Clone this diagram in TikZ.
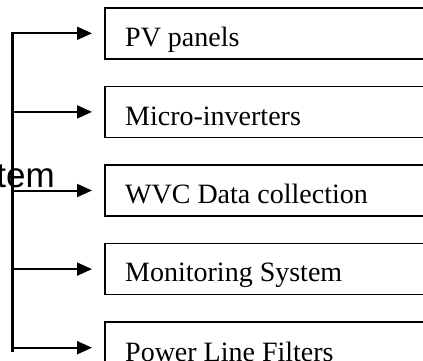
\documentclass[tikz,border=0pt]{standalone}
\usepackage{fontspec}
\setmainfont{Liberation Serif}
\newfontfamily\arialfont{Liberation Sans}
\usetikzlibrary{positioning,arrows.meta}

\tikzset{
    partbox/.style={draw, line width=1.6pt, anchor=north west,
        minimum width=360pt, minimum height=51pt, inner sep=0pt},
    partlabel/.style={anchor=base west, inner sep=0pt, font=\fontsize{28}{32}\selectfont},
}

\begin{document}
\begin{tikzpicture}[x=1pt, y=-1pt]

    \useasboundingbox (0,0) rectangle (423,360);
    \clip (0,0) rectangle (423,360);

    \node[anchor=base east, inner sep=0pt, font=\arialfont\fontsize{35}{40}\selectfont] (sys) at (55,187) {tem};

    \node[partbox] (pv) at (104,7) {};
    \node[partbox, below=26pt of pv.south west, anchor=north west] (micro) {};
    \node[partbox, below=26pt of micro.south west, anchor=north west] (wvc) {};
    \node[partbox, below=26pt of wvc.south west, anchor=north west] (monitor) {};
    \node[partbox, below=26pt of monitor.south west, anchor=north west] (filter) {};

    \node[partlabel] (pvtext) at ([xshift=21pt, yshift=13pt] pv.south west) {PV panels};
    \node[partlabel] (microtext) at ([xshift=21pt, yshift=13pt] micro.south west) {Micro-inverters};
    \node[partlabel] (wvctext) at ([xshift=21pt, yshift=13pt] wvc.south west) {WVC Data collection};
    \node[partlabel] (monitortext) at ([xshift=21pt, yshift=14pt] monitor.south west) {Monitoring System};
    \node[partlabel] (filtertext) at ([xshift=21pt, yshift=13pt] filter.south west) {Power Line Filters};

    \coordinate (trunktop) at ([xshift=-92pt, yshift=1pt] pv.west);
    \coordinate (trunkbot) at ([xshift=-92pt, yshift=-4pt] filter.west);

    \draw [line width=3pt] (trunktop) -- (trunkbot);

    \begin{scope}[>={Triangle[length=15pt, width=13pt]}, line width=2pt, shorten >=12pt]
        \draw [->] (trunktop |- pv.west) -- (pv.west);
        \draw [->] (trunktop |- micro.west) -- (micro.west);
        \draw [->] (trunktop |- wvc.west) -- (wvc.west);
        \draw [->] (trunktop |- monitor.west) -- (monitor.west);
        \draw [->] (trunktop |- filter.west) -- (filter.west);
    \end{scope}

\end{tikzpicture}
\end{document}
